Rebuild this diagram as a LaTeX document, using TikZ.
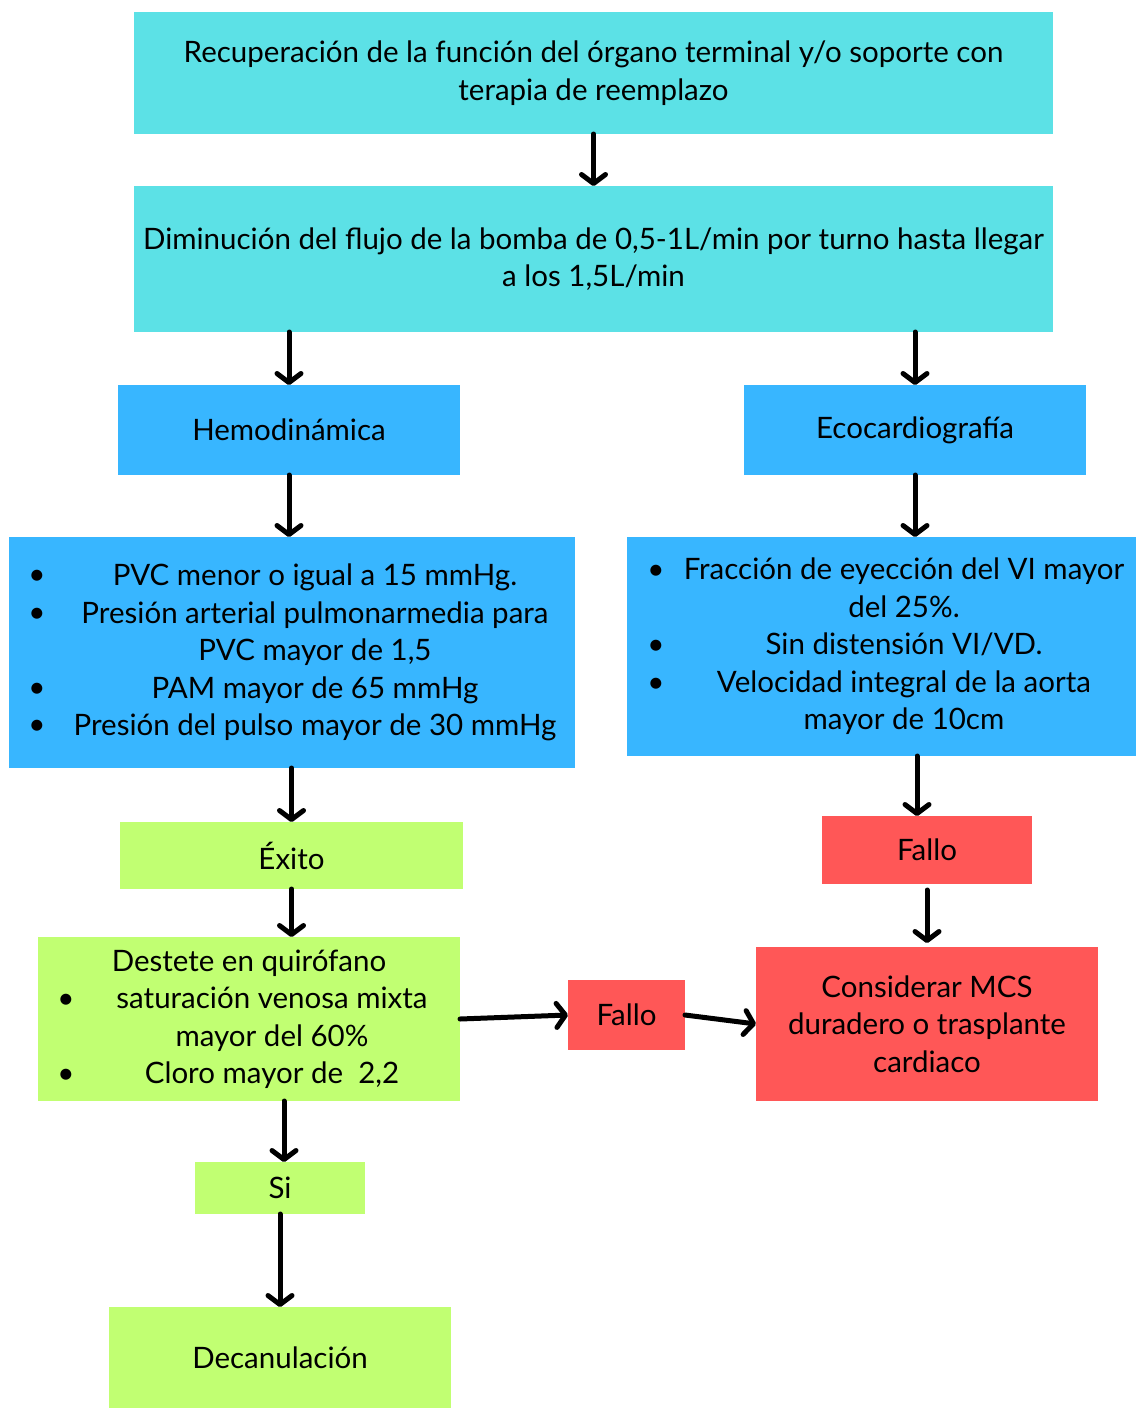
\documentclass[tikz,border=0pt]{standalone}
\usepackage{fontspec}
\setmainfont{Lato}
\usetikzlibrary{arrows.meta}
\definecolor{cyanbox}{HTML}{5CE1E6}
\definecolor{bluebox}{HTML}{38B6FF}
\definecolor{greenbox}{HTML}{C1FF72}
\definecolor{redbox}{HTML}{FF5757}
\begin{document}
\begin{tikzpicture}[x=1pt,y=-1pt,
  box/.style={rectangle, inner sep=0pt, outer sep=0pt, align=center,
    font=\fontsize{29.5}{37.5}\selectfont, text=black},
  txt/.style={inner sep=0pt, align=center, font=\fontsize{29.5}{37.5}\selectfont, text=black},
  bul/.style={inner sep=0pt, font=\fontsize{29.5}{37.5}\selectfont, text=black},
  arr/.style={draw=black, line width=5pt, line cap=round, line join=round,
    -{Straight Barb[length=9pt,width=24pt,line cap=round,line join=round]}}]
\fill[white] (0,0) rectangle (1136,1408);
\useasboundingbox (0,0) rectangle (1136,1408);

% boxes
\node[box, fill=cyanbox, minimum width=919pt, minimum height=122pt] (top) at (593.5,73)
  {Recuperación de la función del órgano terminal y/o soporte con\\terapia de reemplazo};
\node[box, fill=cyanbox, minimum width=919pt, minimum height=146pt] (second) at (593.5,259)
  {Diminución del flujo de la bomba de 0,5-1L/min por turno hasta llegar\\a los 1,5L/min};
\node[box, fill=bluebox, minimum width=342pt, minimum height=90pt] (hemo) at (289,430) {Hemodinámica};
\node[box, fill=bluebox, minimum width=342pt, minimum height=90pt] (eco) at (915,430) {Ecocardiografía};

\node[box, fill=bluebox, minimum width=566pt, minimum height=231pt] (pvc) at (292,652.5) {};
\node[txt] (pvctext) at (315,652.5)
  {PVC menor o igual a 15 mmHg.\\Presión arterial pulmonarmedia para\\PVC mayor de 1,5\\PAM mayor de 65 mmHg\\Presión del pulso mayor de 30 mmHg};
\node[bul] (pb1) at (37,577) {\textbullet};
\node[bul] (pb2) at (37,615) {\textbullet};
\node[bul] (pb3) at (37,690) {\textbullet};
\node[bul] (pb4) at (37,727) {\textbullet};

\node[box, fill=bluebox, minimum width=509pt, minimum height=219pt] (frac) at (881.5,646.5) {};
\node[txt] (fractext) at (904,646.5)
  {Fracción de eyección del VI mayor\\del 25\%.\\Sin distensión VI/VD.\\Velocidad integral de la aorta\\mayor de 10cm};
\node[bul] (fb1) at (656,572) {\textbullet};
\node[bul] (fb2) at (656,647) {\textbullet};
\node[bul] (fb3) at (656,685) {\textbullet};

\node[box, fill=greenbox, minimum width=343pt, minimum height=67pt] (exito) at (291.5,855.5) {Éxito};
\node[box, fill=redbox, minimum width=210pt, minimum height=68pt] (fallo1) at (927,850) {Fallo};

\node[box, fill=greenbox, minimum width=422pt, minimum height=164pt] (destete) at (249,1019) {};
\node[txt] (destetetext) at (272,1019.5)
  {Destete en quirófano\hspace*{46pt}\\saturación venosa mixta\\mayor del 60\%\\Cloro mayor de\ \ 2,2};
\node[bul] (db1) at (66,1001) {\textbullet};
\node[bul] (db2) at (66,1076) {\textbullet};

\node[box, fill=redbox, minimum width=117pt, minimum height=70pt] (fallo2) at (626.5,1015) {Fallo};
\node[box, fill=redbox, minimum width=342pt, minimum height=154pt] (cons) at (927,1024)
  {Considerar MCS\\duradero o trasplante\\cardiaco};

\node[box, fill=greenbox, minimum width=170pt, minimum height=52pt] (si) at (280,1188) {Si};
\node[box, fill=greenbox, minimum width=342pt, minimum height=101pt] (dec) at (280,1357.5) {Decanulación};

% connectors
\draw[arr] (top.south) -- (second.north);
\draw[arr] (second.south -| hemo.north) -- (hemo.north);
\draw[arr] (second.south -| eco.north) -- (eco.north);
\draw[arr] (hemo.south) -- (hemo.south |- pvc.north);
\draw[arr] (eco.south) -- (eco.south |- frac.north);
\draw[arr] (exito.north |- pvc.south) -- (exito.north);
\draw[arr] ([xshift=-10pt]fallo1.north |- frac.south) -- ([xshift=-10pt]fallo1.north);
\draw[arr] ([yshift=-6pt]fallo1.south) -- ([yshift=4pt]cons.north);
\draw[arr] (exito.south) -- (exito.south |- destete.north);
\draw[arr] (destete.east) -- (fallo2.west);
\draw[arr] (fallo2.east) -- (cons.west);
\draw[arr] ([xshift=4pt]si.north |- destete.south) -- ([xshift=4pt]si.north);
\draw[arr] (si.south) -- (si.south |- dec.north);
\end{tikzpicture}
\end{document}
